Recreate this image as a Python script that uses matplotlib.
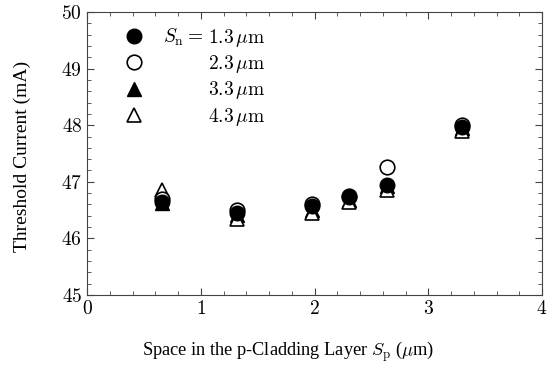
import numpy as np
import matplotlib
matplotlib.use('Agg')
import matplotlib.pyplot as plt
from matplotlib.ticker import MultipleLocator

plt.rcParams['mathtext.fontset'] = 'cm'
plt.rcParams['font.family'] = 'Liberation Serif'

# Dados
sp = [0.66, 1.32, 1.98, 2.30, 2.64, 3.30]
i_sn13 = [46.65, 46.45, 46.57, 46.73, 46.95, 47.97]
i_sn23 = [46.70, 46.50, 46.60, 46.75, 47.27, 48.00]
i_sn33 = [46.62, 46.42, 46.50, 46.68, 46.92, 47.95]
i_sn43 = [46.85, 46.35, 46.45, 46.65, 46.85, 47.90]
labels = [r'$1.3\,\mu\mathrm{m}$', r'$2.3\,\mu\mathrm{m}$',
          r'$3.3\,\mu\mathrm{m}$', r'$4.3\,\mu\mathrm{m}$']

fig = plt.figure(figsize=(5.49, 3.65), dpi=100)
ax = fig.add_axes([87/549, 1 - 295/365, 455/549, 283/365])

ms = 10.5
h33, = ax.plot(sp, i_sn33, '^', ms=ms, mfc='black', mec='black', ls='none')
h43, = ax.plot(sp, i_sn43, '^', ms=ms, mfc='white', mec='black', mew=1.2, ls='none')
h23, = ax.plot(sp, i_sn23, 'o', ms=ms, mfc='white', mec='black', mew=1.2, ls='none')
h13, = ax.plot(sp, i_sn13, 'o', ms=ms, mfc='black', mec='black', ls='none')

ax.set_xlim(0, 4)
ax.set_ylim(45, 50)
ax.xaxis.set_minor_locator(MultipleLocator(0.2))
ax.yaxis.set_minor_locator(MultipleLocator(0.2))
ax.set_xticks([0, 1, 2, 3, 4])
ax.set_xticklabels([f'${v}$' for v in [0, 1, 2, 3, 4]])
ax.set_yticks([45, 46, 47, 48, 49, 50])
ax.set_yticklabels([f'${v}$' for v in [45, 46, 47, 48, 49, 50]])
ax.tick_params(which='both', direction='in', top=True, right=True, labelsize=14, color='#444444')
ax.tick_params(which='major', length=5)
ax.tick_params(which='minor', length=3)
for s in ax.spines.values():
    s.set_color('#444444')

ax.set_xlabel(r'Space in the p-Cladding Layer $S_\mathrm{p}$ ($\mu$m)', fontsize=13.2)
ax.xaxis.set_label_coords((288 - 87) / 455, -(352 - 295) / 283)
ax.xaxis.label.set_va('center')
ax.set_ylabel('Threshold Current (mA)', fontsize=14)
ax.yaxis.set_label_coords(-(87 - 22) / 455, 0.49)
ax.yaxis.label.set_va('center')

leg = ax.legend([h13, h23, h33, h43], labels, loc='upper left', bbox_to_anchor=(0.064, 0.975),
                frameon=False, fontsize=14, handletextpad=3.3, labelspacing=0.22,
                handlelength=1.0, borderaxespad=0)
ax.text(0.255, 0.91, r'$S_\mathrm{n} =$', transform=ax.transAxes, fontsize=14,
        ha='right', va='center')

plt.savefig('out.png', dpi=100)
